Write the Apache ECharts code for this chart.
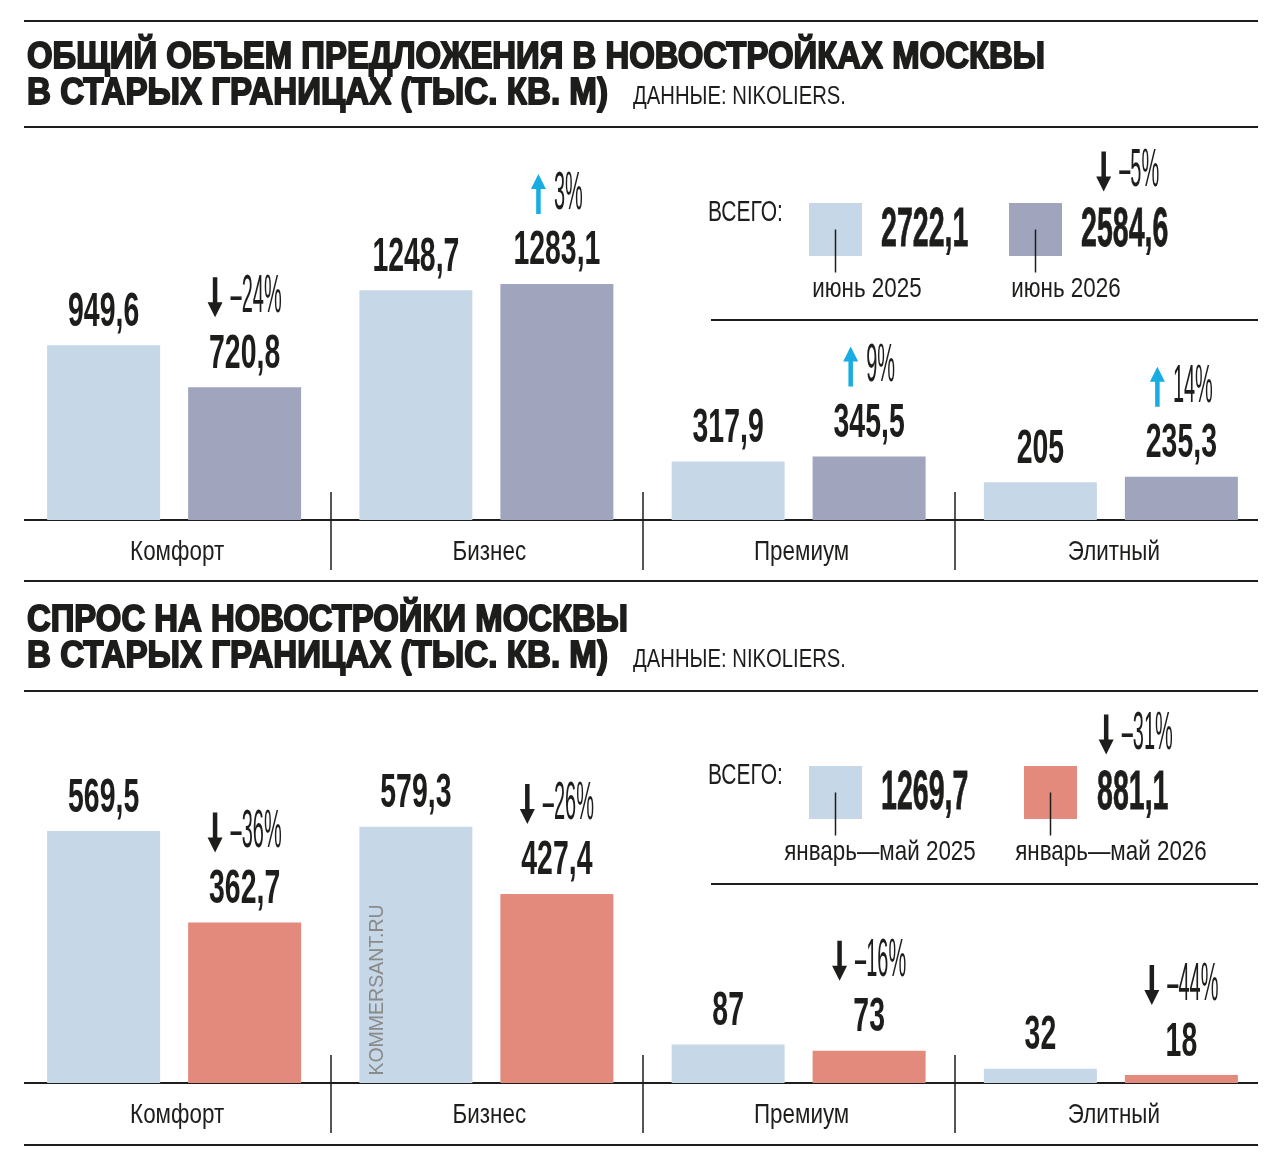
<!DOCTYPE html>
<html>
<head>
<meta charset="utf-8">
<script src="https://cdn.jsdelivr.net/npm/echarts@6/dist/echarts.min.js"></script>
<style>
  html, body { margin: 0; background: #fff; }
  #chart { width: 1280px; height: 1164px; }
</style>
</head>
<body>
<div id="chart"></div>
<script>
// ---- data ----
var categories = ['Комфорт', 'Бизнес', 'Премиум', 'Элитный'];

var supply2025 = [949.6, 1248.7, 317.9, 205];
var supply2026 = [720.8, 1283.1, 345.5, 235.3];
var supplyChange = [-24, 3, 9, 14];
var supplyTotals = [2722.1, 2584.6];
var supplyTotalChange = -5;
var supplyPeriods = ['июнь 2025', 'июнь 2026'];

var demand2025 = [569.5, 579.3, 87, 32];
var demand2026 = [362.7, 427.4, 73, 18];
var demandChange = [-36, -26, -16, -44];
var demandTotals = [1269.7, 881.1];
var demandTotalChange = -31;
var demandPeriods = ['январь—май 2025', 'январь—май 2026'];

var titles = [
  ['ОБЩИЙ ОБЪЕМ ПРЕДЛОЖЕНИЯ В НОВОСТРОЙКАХ МОСКВЫ', 'В СТАРЫХ ГРАНИЦАХ (ТЫС. КВ. М)'],
  ['СПРОС НА НОВОСТРОЙКИ МОСКВЫ', 'В СТАРЫХ ГРАНИЦАХ (ТЫС. КВ. М)']
];
var sourceText = 'ДАННЫЕ: NIKOLIERS.';

// ---- style ----
var INK = '#1d1d1b';
var LIGHT = '#c6d7e8', GREY = '#a0a5bd', SALMON = '#e38a7c', UP = '#17ace2';
var SANS = '"Liberation Sans", Arial, sans-serif';

var NUM_FONT = 'bold 49px ' + SANS, NUM_SX = 0.58;
var PCT_FONT = '54px ' + SANS, PCT_SX = 0.37;
var TOTAL_FONT = 'bold 56px ' + SANS, TOTAL_SX = 0.51;
var LABEL_FONT = '28px ' + SANS, LABEL_SX = 0.8;
var TITLE_FONT = 'bold 36px ' + SANS;

var BAR_W = 113, BAR_GAP = 28;
var BAR_SHIFT = (BAR_W + BAR_GAP) / 2;
var VALUE_LIFT = 33, PCT_LIFT = 57, CAT_DROP = 32, CAT_SHIFT = 3;

var measure = document.createElement('canvas').getContext('2d');
function textWidth(s, font) { measure.font = font; return measure.measureText(s).width; }

function fmt(v) { return String(v).replace('.', ','); }
function pctLabel(p) { return (p < 0 ? '–' + Math.abs(p) : p) + '%'; }

function text(x, y, s, font, sx, align, extra) {
  var el = {
    type: 'text', x: x, y: y, scaleX: sx,
    style: { text: s, font: font, fill: INK, align: align, textAlign: align,
             verticalAlign: 'middle', textVerticalAlign: 'middle' }
  };
  if (extra) for (var k in extra) el.style[k] = extra[k];
  return el;
}

function arrow(cx, cy, up) {
  var h = 40, w = 15, shaft = 4.5, head = 15, top = cy - h / 2, bot = cy + h / 2;
  var pts = [[cx - shaft / 2, top], [cx + shaft / 2, top], [cx + shaft / 2, bot - head],
             [cx + w / 2, bot - head], [cx, bot], [cx - w / 2, bot - head], [cx - shaft / 2, bot - head]];
  if (up) pts = pts.map(function (p) { return [p[0], 2 * cy - p[1]]; });
  return { type: 'polygon', shape: { points: pts }, style: { fill: up ? UP : INK } };
}

function changeMark(cx, cy, p) {
  var s = pctLabel(p);
  var tw = textWidth(s, PCT_FONT) * PCT_SX, aw = 15, gap = 8;
  var left = cx - (aw + gap + tw) / 2;
  return [arrow(left + aw / 2, cy, p > 0), text(left + aw + gap, cy, s, PCT_FONT, PCT_SX, 'left')];
}

function labelItem(params, api) {
  var ci = api.value(0), a = api.value(1), b = api.value(2), p = api.value(3);
  var base = api.coord([ci, 0]);
  var pa = api.coord([ci, a]), pb = api.coord([ci, b]);
  var xa = pa[0] - BAR_SHIFT, xb = pb[0] + BAR_SHIFT;
  var ya = pa[1] - VALUE_LIFT, yb = pb[1] - VALUE_LIFT;
  return {
    type: 'group',
    children: [text(xa, ya, fmt(a), NUM_FONT, NUM_SX, 'center'),
               text(xb, yb, fmt(b), NUM_FONT, NUM_SX, 'center'),
               text(base[0] + CAT_SHIFT, base[1] + CAT_DROP, categories[ci], LABEL_FONT, LABEL_SX, 'center')]
      .concat(changeMark(xb, yb - PCT_LIFT, p))
  };
}

function rule(x1, x2, y, w) {
  return { type: 'line', shape: { x1: x1, y1: y, x2: x2, y2: y }, style: { stroke: INK, lineWidth: w || 2 } };
}

function titleBlock(lines, y1, y2, widths) {
  var els = [];
  [[lines[0], y1, widths[0]], [lines[1], y2, widths[1]]].forEach(function (t) {
    var sx = t[2] / textWidth(t[0], TITLE_FONT);
    els.push(text(27, t[1], t[0], TITLE_FONT, sx, 'left', { stroke: INK, lineWidth: 1.8 }));
  });
  var srcFont = '25px ' + SANS;
  els.push(text(633, y2 + 3, sourceText, srcFont, 213 / textWidth(sourceText, srcFont), 'left'));
  return els;
}

function legendBlock(o) {
  var els = [text(708, o.y + 10, 'ВСЕГО:', '30px ' + SANS, 0.7, 'left')];
  var cy = o.y + 26.5;
  for (var i = 0; i < 2; i++) {
    var sx = o.sqX[i], cx = sx + 26.5;
    els.push({ type: 'rect', shape: { x: sx, y: o.y, width: 53, height: 53 }, style: { fill: o.colors[i] } });
    els.push({ type: 'line', shape: { x1: cx, y1: cy, x2: cx, y2: cy + 43 }, style: { stroke: INK, lineWidth: 1.5 } });
    els.push(text(o.labelX[i], o.y + 86, o.periods[i], LABEL_FONT, LABEL_SX, 'center'));
    els.push(text(o.valX[i], cy + 1, fmt(o.totals[i]), TOTAL_FONT, TOTAL_SX, 'left', { stroke: INK, lineWidth: 0.8 }));
  }
  var vw = textWidth(fmt(o.totals[1]), TOTAL_FONT) * TOTAL_SX;
  return els.concat(changeMark(o.valX[1] + vw / 2 + 3, cy - 58, o.change));
}

var graphics = []
  .concat([rule(24, 1258, 21), rule(24, 1258, 127), rule(24, 1258, 581), rule(711, 1258, 320),
           rule(24, 1258, 691), rule(24, 1258, 1145), rule(711, 1258, 884),
           rule(24, 1258, 520), rule(24, 1258, 1083)])
  .concat(titleBlock(titles[0], 58, 94, [1018, 581]))
  .concat(titleBlock(titles[1], 621.5, 657.5, [601, 581]))
  .concat(legendBlock({ y: 203, sqX: [809, 1009], valX: [881, 1081], labelX: [867, 1066],
                        colors: [LIGHT, GREY], totals: supplyTotals, periods: supplyPeriods,
                        change: supplyTotalChange }))
  .concat(legendBlock({ y: 766, sqX: [809, 1024], valX: [881, 1097], labelX: [880, 1111],
                        colors: [LIGHT, SALMON], totals: demandTotals, periods: demandPeriods,
                        change: demandTotalChange }));

graphics.push({
  type: 'text', x: 378, y: 990, rotation: Math.PI / 2, z: 100,
  style: { text: 'KOMMERSANT.RU', font: '19.5px ' + SANS, fill: '#8a8a8a',
           align: 'center', textAlign: 'center', verticalAlign: 'middle', textVerticalAlign: 'middle' }
});

// ---- chart ----
var GRID_L = 18, GRID_R = 13;

function catAxis(grid, separators) {
  return {
    type: 'category', gridIndex: grid, data: categories,
    axisLine: { show: false }, axisTick: { show: false }, axisLabel: { show: false },
    splitLine: separators ? {
      show: true, showMinLine: false, showMaxLine: false,
      lineStyle: { color: INK, width: 1.5 }
    } : { show: false }
  };
}
function valAxis(grid, max) {
  return { type: 'value', gridIndex: grid, min: 0, max: max, show: false, splitLine: { show: false } };
}

var option = {
  animation: false,
  backgroundColor: '#fff',
  grid: [
    { left: GRID_L, right: GRID_R, top: 152, bottom: 644 },
    { left: GRID_L, right: GRID_R, top: 492, bottom: 594 },
    { left: GRID_L, right: GRID_R, top: 729, bottom: 81 },
    { left: GRID_L, right: GRID_R, top: 1055, bottom: 31 }
  ],
  xAxis: [catAxis(0, false), catAxis(1, true), catAxis(2, false), catAxis(3, true)],
  yAxis: [valAxis(0, 2000), valAxis(1, 1), valAxis(2, 800), valAxis(3, 1)],
  graphic: { elements: graphics },
  series: [
    { type: 'bar', xAxisIndex: 0, yAxisIndex: 0, data: supply2025, barWidth: BAR_W,
      barGap: (BAR_GAP / BAR_W * 100) + '%', itemStyle: { color: LIGHT }, silent: true },
    { type: 'bar', xAxisIndex: 0, yAxisIndex: 0, data: supply2026, barWidth: BAR_W,
      itemStyle: { color: GREY }, silent: true },
    { type: 'custom', xAxisIndex: 0, yAxisIndex: 0, silent: true, z: 5, clip: false,
      data: categories.map(function (c, i) { return [i, supply2025[i], supply2026[i], supplyChange[i]]; }),
      renderItem: labelItem },
    { type: 'bar', xAxisIndex: 2, yAxisIndex: 2, data: demand2025, barWidth: BAR_W,
      barGap: (BAR_GAP / BAR_W * 100) + '%', itemStyle: { color: LIGHT }, silent: true },
    { type: 'bar', xAxisIndex: 2, yAxisIndex: 2, data: demand2026, barWidth: BAR_W,
      itemStyle: { color: SALMON }, silent: true },
    { type: 'custom', xAxisIndex: 2, yAxisIndex: 2, silent: true, z: 5, clip: false,
      data: categories.map(function (c, i) { return [i, demand2025[i], demand2026[i], demandChange[i]]; }),
      renderItem: labelItem }
  ]
};

var chart = echarts.init(document.getElementById('chart'));
chart.setOption(option);
</script>
</body>
</html>
